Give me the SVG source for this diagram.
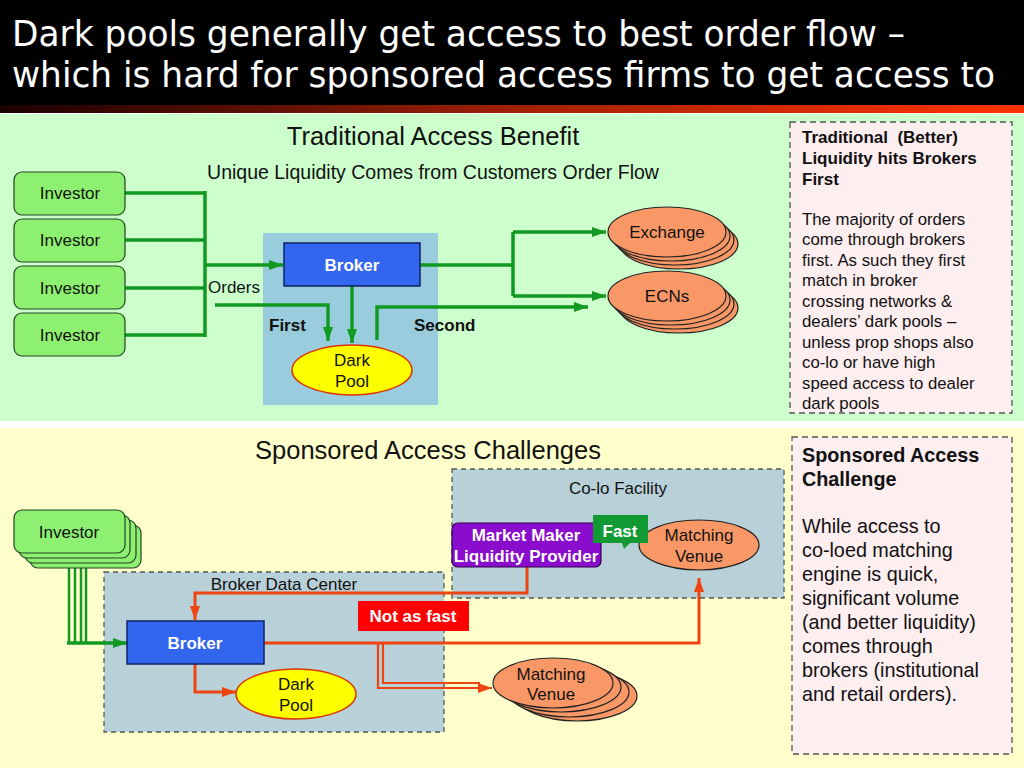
<svg xmlns="http://www.w3.org/2000/svg" width="1024" height="768" viewBox="0 0 1024 768">
<defs>
<linearGradient id="strip" x1="0" y1="0" x2="1" y2="0">
<stop offset="0" stop-color="#1a0000"/>
<stop offset="0.5" stop-color="#a02000"/>
<stop offset="1" stop-color="#ff3300"/>
</linearGradient>
<marker id="ag" viewBox="0 0 14 10" refX="14" refY="5" markerWidth="14" markerHeight="10" markerUnits="userSpaceOnUse" orient="auto">
<path d="M0,0 L14,5 L0,10 z" fill="#119922"/>
</marker>
<marker id="ar" viewBox="0 0 14 10" refX="14" refY="5" markerWidth="14" markerHeight="10" markerUnits="userSpaceOnUse" orient="auto">
<path d="M0,0 L14,5 L0,10 z" fill="#ee4411"/>
</marker>
<style>
text{font-family:"Liberation Sans",Arial,sans-serif;fill:#111}
.title{font-family:"DejaVu Sans Condensed","DejaVu Sans",sans-serif;fill:#fff;font-size:35px}
.h1{font-size:25.5px;text-anchor:middle}
.h2{font-size:19.5px;text-anchor:middle}
.c{text-anchor:middle;font-size:17px}
.wb{fill:#fff;font-weight:bold;text-anchor:middle;font-size:17px}
.b{font-weight:bold;font-size:17px}
.inv{fill:#8ef070;stroke:#224422;stroke-width:1.2}
.brk{fill:#3366ee;stroke:#112266;stroke-width:1.5}
.pool{fill:#ffff00;stroke:#dd3300;stroke-width:1.5}
.venue{fill:#f99866;stroke:#222;stroke-width:1.2}
.gl{fill:none;stroke:#119922;stroke-width:3.5}
.gl2{fill:none;stroke:#119922;stroke-width:2.5}
.rl{fill:none;stroke:#ee4411;stroke-width:3}
.rl2{fill:none;stroke:#ee4411;stroke-width:2.2}
.note{fill:#fdeef0;stroke:#555;stroke-width:1.3;stroke-dasharray:6,4}
.zone{fill:#b8d0d8;stroke:#555;stroke-width:1.3;stroke-dasharray:5,4}
.nt{font-size:16.8px}
.nt2{font-size:19.8px}
</style>
</defs>

<!-- background -->
<rect x="0" y="0" width="1024" height="768" fill="#ffffff"/>
<rect x="0" y="0" width="1024" height="106" fill="#000"/>
<rect x="0" y="105" width="1024" height="8" fill="url(#strip)"/>
<rect x="0" y="114" width="1024" height="307" fill="#ccffcc"/>
<rect x="0" y="428" width="1024" height="340" fill="#ffffcc"/>

<g id="title">
<text class="title" x="12" y="46" textLength="893" lengthAdjust="spacingAndGlyphs">Dark pools generally get access to best order flow –</text>
<text class="title" x="12" y="87" textLength="983" lengthAdjust="spacingAndGlyphs">which is hard for sponsored access firms to get access to</text>
</g>

<!-- ===== TOP PANEL ===== -->
<g id="top-headings">
<text class="h1" x="433" y="145">Traditional Access Benefit</text>
<text class="h2" x="433" y="179">Unique Liquidity Comes from Customers Order Flow</text>
</g>

<rect id="broker-zone-top" x="263" y="233" width="175" height="172" fill="#99ccdd"/>

<g id="connectors-top">
<path class="gl" d="M125,193 H205 M125,240 H205 M125,288 H205 M125,335 H205 M205,191 V337"/>
<path class="gl" d="M205,265 H283" marker-end="url(#ag)"/>
<path class="gl" d="M215,305 H328 V341" marker-end="url(#ag)"/>
<path class="gl" d="M352,286 V343" marker-end="url(#ag)"/>
<path class="gl" d="M377,340 V307 H588" marker-end="url(#ag)"/>
<path class="gl" d="M420,265 H513"/>
<path class="gl" d="M513,232 V296"/>
<path class="gl" d="M513,232 H606" marker-end="url(#ag)"/>
<path class="gl" d="M513,296 H606" marker-end="url(#ag)"/>
</g>

<g id="investor1"><rect class="inv" x="14" y="172" width="111" height="43" rx="8"/><text class="c" x="70" y="199">Investor</text></g>
<g id="investor2"><rect class="inv" x="14" y="219" width="111" height="43" rx="8"/><text class="c" x="70" y="246">Investor</text></g>
<g id="investor3"><rect class="inv" x="14" y="266" width="111" height="43" rx="8"/><text class="c" x="70" y="294">Investor</text></g>
<g id="investor4"><rect class="inv" x="14" y="313" width="111" height="43" rx="8"/><text class="c" x="70" y="341">Investor</text></g>

<g id="broker-top"><rect class="brk" x="284" y="243" width="136" height="43"/><text class="wb" x="352" y="271">Broker</text></g>

<g id="darkpool-top"><ellipse class="pool" cx="352" cy="370" rx="60" ry="25"/><text class="c" x="352" y="366">Dark</text><text class="c" x="352" y="387">Pool</text></g>

<g id="labels-top">
<text class="c" x="208" y="293" text-anchor="start" style="text-anchor:start">Orders</text>
<text class="b" x="269" y="331">First</text>
<text class="b" x="414" y="331">Second</text>
</g>

<g id="exchange">
<ellipse class="venue" cx="679" cy="244" rx="59" ry="25"/>
<ellipse class="venue" cx="675" cy="240" rx="59" ry="25"/>
<ellipse class="venue" cx="671" cy="236" rx="59" ry="25"/>
<ellipse class="venue" cx="667" cy="232" rx="59" ry="25"/>
<text class="c" x="667" y="238">Exchange</text>
</g>
<g id="ecns">
<ellipse class="venue" cx="679" cy="308" rx="59" ry="25"/>
<ellipse class="venue" cx="675" cy="304" rx="59" ry="25"/>
<ellipse class="venue" cx="671" cy="300" rx="59" ry="25"/>
<ellipse class="venue" cx="667" cy="296" rx="59" ry="25"/>
<text class="c" x="667" y="302">ECNs</text>
</g>

<g id="note-top">
<rect class="note" x="790" y="122" width="222" height="291"/>
<text class="b" x="802" y="143" xml:space="preserve">Traditional  (Better)</text>
<text class="b" x="802" y="164">Liquidity hits Brokers</text>
<text class="b" x="802" y="185">First</text>
<text class="nt" x="802" y="225">The majority of orders</text>
<text class="nt" x="802" y="245">come through brokers</text>
<text class="nt" x="802" y="266">first. As such they first</text>
<text class="nt" x="802" y="286">match in broker</text>
<text class="nt" x="802" y="307">crossing networks &amp;</text>
<text class="nt" x="802" y="327">dealers’ dark pools –</text>
<text class="nt" x="802" y="348">unless prop shops also</text>
<text class="nt" x="802" y="368">co-lo or have high</text>
<text class="nt" x="802" y="389">speed access to dealer</text>
<text class="nt" x="802" y="409">dark pools</text>
</g>

<!-- ===== BOTTOM PANEL ===== -->
<text class="h1" x="428" y="459">Sponsored Access Challenges</text>

<g id="colo-facility">
<rect class="zone" x="452" y="469" width="332" height="129"/>
<text class="c" x="618" y="494">Co-lo Facility</text>
</g>
<g id="broker-data-center">
<rect class="zone" x="104" y="572" width="340" height="160"/>
<text class="c" x="284" y="590">Broker Data Center</text>
</g>

<g id="connectors-bottom">
<path class="gl2" d="M69,553 V643 M75,553 V643 M81,553 V643 M86,553 V643"/>
<path class="gl" d="M67,643 H127" marker-end="url(#ag)"/>
<path class="rl" d="M527,567 V593 H195 V620" marker-end="url(#ar)"/>
<path class="rl" d="M195,664 V692 H236" marker-end="url(#ar)"/>
<path class="rl" d="M264,643 H699 V578" marker-end="url(#ar)"/>
<path class="rl2" d="M378,643 V688 H492" marker-end="url(#ar)"/>
<path class="rl2" d="M383,643 V683 H480"/>
</g>

<g id="investor-stack">
<rect class="inv" x="30" y="525" width="111" height="43" rx="8"/>
<rect class="inv" x="25" y="520" width="111" height="43" rx="8"/>
<rect class="inv" x="19" y="515" width="111" height="43" rx="8"/>
<rect class="inv" x="14" y="510" width="111" height="43" rx="8"/>
<text class="c" x="69" y="538">Investor</text>
</g>

<g id="broker-bottom"><rect class="brk" x="127" y="621" width="137" height="43"/><text class="wb" x="195" y="649">Broker</text></g>

<g id="darkpool-bottom"><ellipse class="pool" cx="296" cy="694" rx="60" ry="25"/><text class="c" x="296" y="690">Dark</text><text class="c" x="296" y="711">Pool</text></g>

<g id="not-as-fast"><rect x="358" y="601" width="111" height="30" fill="#ff0000"/><text class="wb" x="413" y="622">Not as fast</text></g>

<g id="market-maker">
<rect x="452" y="523" width="149" height="44" rx="6" fill="#8a0ccc" stroke="#330055" stroke-width="1.2"/>
<text class="wb" x="526" y="541">Market Maker</text>
<text class="wb" x="526" y="562">Liquidity Provider</text>
</g>

<g id="matching-venue-colo">
<ellipse class="venue" cx="699" cy="545" rx="60" ry="25"/>
<text class="c" x="699" y="541">Matching</text>
<text class="c" x="699" y="562">Venue</text>
</g>

<g id="fast">
<path d="M593,515 H648 V543 H630 L624,549 L622,543 H593 Z" fill="#119933"/>
<text class="wb" x="620" y="537">Fast</text>
</g>

<g id="matching-venue-bottom">
<ellipse class="venue" cx="577" cy="696" rx="60" ry="25"/>
<ellipse class="venue" cx="569" cy="692" rx="60" ry="25"/>
<ellipse class="venue" cx="561" cy="687" rx="60" ry="25"/>
<ellipse class="venue" cx="553" cy="683" rx="60" ry="25"/>
<text class="c" x="551" y="680">Matching</text>
<text class="c" x="551" y="700">Venue</text>
</g>

<g id="note-bottom">
<rect class="note" x="792" y="437" width="220" height="317"/>
<text class="nt2" x="802" y="462" font-weight="bold">Sponsored Access</text>
<text class="nt2" x="802" y="486" font-weight="bold">Challenge</text>
<text class="nt2" x="802" y="533">While access to</text>
<text class="nt2" x="802" y="557">co-loed matching</text>
<text class="nt2" x="802" y="581">engine is quick,</text>
<text class="nt2" x="802" y="605">significant volume</text>
<text class="nt2" x="802" y="629">(and better liquidity)</text>
<text class="nt2" x="802" y="653">comes through</text>
<text class="nt2" x="802" y="677">brokers (institutional</text>
<text class="nt2" x="802" y="701">and retail orders).</text>
</g>
</svg>
